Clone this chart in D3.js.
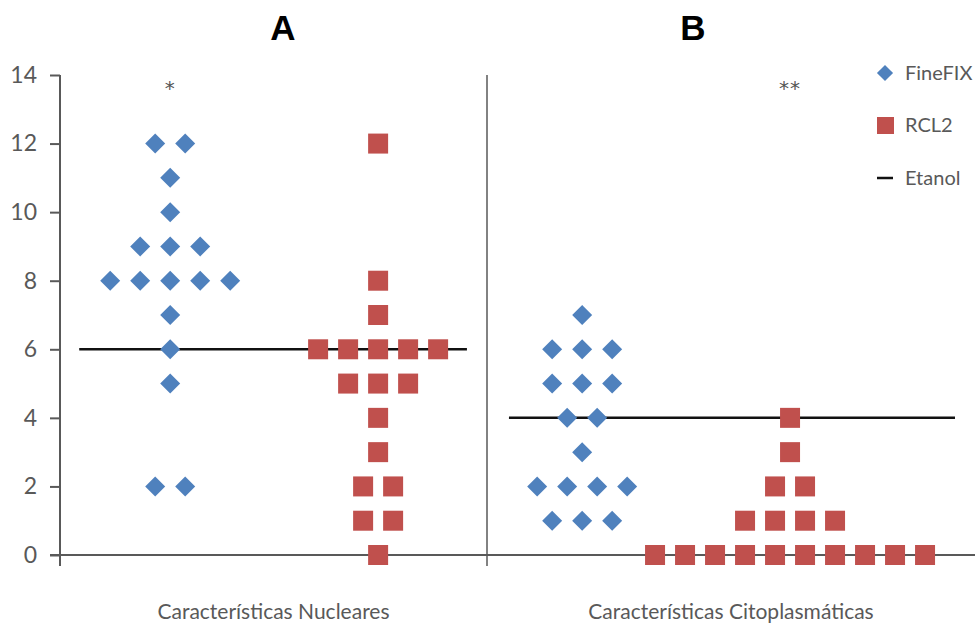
<!DOCTYPE html>
<html>
<head>
<meta charset="utf-8">
<script src="https://cdn.jsdelivr.net/npm/d3@7"></script>
<style>
  body { margin: 0; background: #fff; }
  svg { display: block; font-family: Lato, "Open Sans", sans-serif; }
</style>
</head>
<body>
<div id="chart"></div>
<script>
// categories on the x axis
var categories = ["Características Nucleares", "Características Citoplasmáticas"];
var panelTitles = ["A", "B"];
var significance = ["*", "**"];
var seriesNames = ["FineFIX", "RCL2", "Etanol"];

// scores per sample
var fineFixNuclear = [12, 12, 11, 10, 9, 9, 9, 8, 8, 8, 8, 8, 7, 6, 5, 2, 2];
var rcl2Nuclear = [12, 8, 7, 6, 6, 6, 6, 6, 5, 5, 5, 4, 3, 2, 2, 1, 1, 0];
var fineFixCito = [7, 6, 6, 6, 5, 5, 5, 4, 4, 3, 2, 2, 2, 2, 1, 1, 1];
var rcl2Cito = [4, 3, 2, 2, 1, 1, 1, 1, 0, 0, 0, 0, 0, 0, 0, 0, 0, 0];
var etanol = [6, 4];

var yTicks = [0, 2, 4, 6, 8, 10, 12, 14];

var width = 977, height = 627;
var blue = "#4f81bd", red = "#c0504d", grey = "#595959";

var svg = d3.select("#chart").append("svg")
  .attr("width", width).attr("height", height);

// piecewise x: category i spans [i, i+1]
var x = d3.scaleLinear().domain([0, 1, 2]).range([60, 487, 975]);
var y = d3.scaleLinear().domain([0, 14]).range([555, 75]);

// where each series sits inside its category (fraction of panel)
var seriesFrac = [[0.258, 0.745], [0.195, 0.621]];
var step = 30;

var groups = [
  { cat: 0, s: 0, values: fineFixNuclear },
  { cat: 0, s: 1, values: rcl2Nuclear },
  { cat: 1, s: 0, values: fineFixCito },
  { cat: 1, s: 1, values: rcl2Cito }
];

// spread equal values side by side around the series centre
var points = [];
groups.forEach(function(g) {
  var cx = x(g.cat + seriesFrac[g.cat][g.s]);
  var counts = d3.rollup(g.values, function(v) { return v.length; }, function(d) { return d; });
  var seen = new Map();
  g.values.forEach(function(v) {
    var n = counts.get(v);
    var i = seen.get(v) || 0;
    seen.set(v, i + 1);
    points.push({ s: g.s, x: cx + (i - (n - 1) / 2) * step, y: y(v) });
  });
});

// y axis
var yAxis = svg.append("g")
  .attr("transform", "translate(60,0)")
  .call(d3.axisLeft(y).tickValues(yTicks).tickSize(10).tickPadding(13).tickSizeOuter(0));
yAxis.select(".domain").remove();
yAxis.selectAll(".tick line").attr("stroke", grey).attr("stroke-width", 2);
yAxis.selectAll(".tick text").attr("fill", grey).style("font-size", "23px")
  .style("font-family", "Lato, sans-serif");

// axis frame lines
svg.append("line").attr("x1", 60).attr("x2", 60).attr("y1", y(14)).attr("y2", 566)
  .attr("stroke", grey).attr("stroke-width", 2);
svg.append("line").attr("x1", 50).attr("x2", x(2)).attr("y1", y(0)).attr("y2", y(0))
  .attr("stroke", grey).attr("stroke-width", 2);
svg.append("line").attr("x1", x(1)).attr("x2", x(1)).attr("y1", y(14)).attr("y2", 566)
  .attr("stroke", grey).attr("stroke-width", 1.5);

// category labels
svg.selectAll(".cat").data(categories).enter().append("text")
  .attr("x", function(d, i) { return x(i + 0.5); })
  .attr("y", 619)
  .attr("text-anchor", "middle")
  .attr("fill", grey)
  .style("font-size", "21px")
  .text(function(d) { return d; });

// panel titles
svg.selectAll(".title").data(panelTitles).enter().append("text")
  .attr("x", function(d, i) { return i === 0 ? 283 : 693; })
  .attr("y", 40)
  .attr("text-anchor", "middle")
  .style("font-family", "'Liberation Sans', Arial, sans-serif")
  .style("font-weight", "bold")
  .style("font-size", "35px")
  .text(function(d) { return d; });

// significance marks above the series
svg.selectAll(".sig").data(significance).enter().append("text")
  .attr("x", function(d, i) { return i === 0 ? x(seriesFrac[0][0]) : x(1 + seriesFrac[1][1]); })
  .attr("y", 95)
  .attr("text-anchor", "middle")
  .attr("fill", "#555")
  .style("font-family", "'DejaVu Sans', sans-serif")
  .style("font-size", "20px")
  .style("letter-spacing", "1px")
  .text(function(d) { return d; });

// etanol reference lines
svg.selectAll(".etanol").data(etanol).enter().append("line")
  .attr("x1", function(d, i) { return x(i + 0.045); })
  .attr("x2", function(d, i) { return x(i + (i === 0 ? 0.953 : 0.959)); })
  .attr("y1", function(d) { return y(d); })
  .attr("y2", function(d) { return y(d); })
  .attr("stroke", "#111").attr("stroke-width", 2.5);

svg.selectAll(".pt").data(points).enter().append("path")
  .attr("d", function(d) { return d3.symbol().type(d3.symbolSquare).size(d.s === 0 ? 200 : 400)(); })
  .attr("transform", function(d) {
    return "translate(" + d.x + "," + d.y + ")" + (d.s === 0 ? " rotate(45)" : "");
  })
  .attr("fill", function(d) { return d.s === 0 ? blue : red; });

// legend
var legend = svg.append("g").attr("transform", "translate(885,0)");
var legY = [73, 125, 178];
legend.append("path").attr("d", d3.symbol().type(d3.symbolSquare).size(130)())
  .attr("transform", "translate(0," + legY[0] + ") rotate(45)").attr("fill", blue);
legend.append("rect").attr("x", -8).attr("y", legY[1] - 8).attr("width", 17).attr("height", 17)
  .attr("fill", red);
legend.append("line").attr("x1", -8).attr("x2", 8).attr("y1", legY[2]).attr("y2", legY[2])
  .attr("stroke", "#111").attr("stroke-width", 2.5);
legend.selectAll(".lt").data(seriesNames).enter().append("text")
  .attr("x", 20)
  .attr("y", function(d, i) { return legY[i] + 7; })
  .attr("fill", grey)
  .style("font-size", "20px")
  .text(function(d) { return d; });
</script>
</body>
</html>
